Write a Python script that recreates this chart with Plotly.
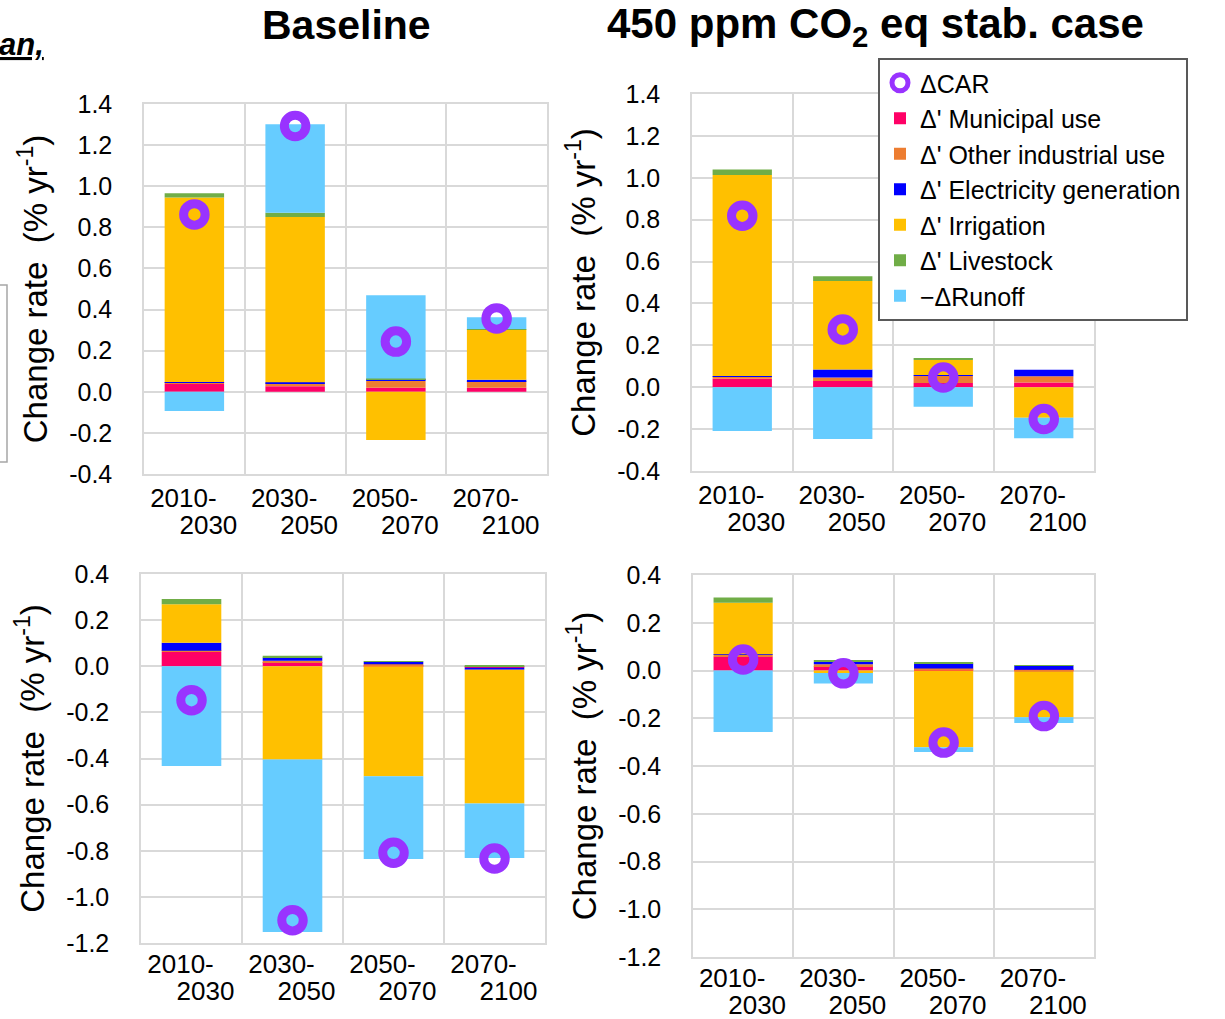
import plotly.graph_objects as go

# Periods on the category axis, and the two lines of each period label
periods = ["2010-2030", "2030-2050", "2050-2070", "2070-2100"]
period_start_labels = ["2010-", "2030-", "2050-", "2070-"]
period_end_labels = ["2030", "2050", "2070", "2100"]

# Tick labels of the change-rate axes (% per year)
top_ticks = [-0.4, -0.2, 0.0, 0.2, 0.4, 0.6, 0.8, 1.0, 1.2, 1.4]
top_tick_text = ["-0.4", "-0.2", "0.0", "0.2", "0.4", "0.6", "0.8", "1.0", "1.2", "1.4"]
bottom_ticks = [-1.2, -1.0, -0.8, -0.6, -0.4, -0.2, 0.0, 0.2, 0.4]
bottom_tick_text = ["-1.2", "-1.0", "-0.8", "-0.6", "-0.4", "-0.2", "0.0", "0.2", "0.4"]

# Baseline, upper region
tl_municipal = [0.038, 0.027, 0.020, 0.020]
tl_other = [0.008, 0.015, 0.033, 0.032]
tl_electricity = [0.001, 0.004, 0.006, 0.007]
tl_irrigation = [0.898, 0.804, -0.234, 0.245]
tl_livestock = [0.021, 0.021, 0.005, 0.001]
tl_runoff = [-0.093, 0.431, 0.405, 0.057]
tl_car = [0.863, 1.293, 0.244, 0.357]

# 450 ppm stabilisation case, upper region
tr_municipal = [0.040, 0.030, 0.020, 0.022]
tr_other = [0.012, 0.017, 0.035, 0.030]
tr_electricity = [0.001, 0.038, 0.003, 0.032]
tr_irrigation = [0.960, 0.422, 0.072, -0.146]
tr_livestock = [0.027, 0.023, 0.009, 0.000]
tr_runoff = [-0.209, -0.247, -0.093, -0.098]
tr_car = [0.819, 0.276, 0.046, -0.152]

# Baseline, lower region
bl_municipal = [0.062, 0.018, 0.004, -0.006]
bl_other = [0.005, 0.006, 0.005, 0.000]
bl_electricity = [0.035, 0.014, 0.011, -0.009]
bl_irrigation = [0.167, -0.404, -0.477, -0.580]
bl_livestock = [0.023, 0.008, 0.002, 0.002]
bl_runoff = [-0.432, -0.748, -0.359, -0.236]
bl_car = [-0.147, -1.101, -0.809, -0.834]

# 450 ppm stabilisation case, lower region
br_municipal = [0.058, 0.018, 0.004, 0.003]
br_other = [0.008, 0.008, 0.004, -0.005]
br_electricity = [0.002, 0.010, 0.021, 0.018]
br_irrigation = [0.216, -0.010, -0.321, -0.191]
br_livestock = [0.022, 0.006, 0.003, 0.002]
br_runoff = [-0.258, -0.044, -0.020, -0.024]
br_car = [0.046, -0.012, -0.302, -0.191]

component_names = ["\u0394' Municipal use", "\u0394' Other industrial use",
                    "\u0394' Electricity generation", "\u0394' Irrigation",
                    "\u0394' Livestock", "\u2212\u0394Runoff"]
component_colors = ["#FF0066", "#ED7D31", "#0000FF", "#FFC000", "#70AD47", "#66CCFF"]
car_name = "\u0394CAR"
car_color = "#9933FF"

panels = [
    ("x", "y", "x5", [tl_municipal, tl_other, tl_electricity, tl_irrigation, tl_livestock, tl_runoff], tl_car),
    ("x2", "y2", "x6", [tr_municipal, tr_other, tr_electricity, tr_irrigation, tr_livestock, tr_runoff], tr_car),
    ("x3", "y3", "x7", [bl_municipal, bl_other, bl_electricity, bl_irrigation, bl_livestock, bl_runoff], bl_car),
    ("x4", "y4", "x8", [br_municipal, br_other, br_electricity, br_irrigation, br_livestock, br_runoff], br_car),
]

W, H = 1225, 1019
FONT = "Liberation Sans, Arial, sans-serif"
GRID = "#D9D9D9"

fig = go.Figure()
for p, (xa, ya, xa_lbl, comps, car) in enumerate(panels):
    for k, vals in enumerate(comps):
        fig.add_trace(go.Bar(
            x=periods, y=vals, xaxis=xa, yaxis=ya,
            name=component_names[k], legendgroup=component_names[k],
            showlegend=(p == 0), legendrank=k + 2,
            marker=dict(color=component_colors[k], line=dict(width=0)),
        ))
    fig.add_trace(go.Scatter(
        x=periods, y=car, xaxis=xa, yaxis=ya, mode="markers",
        name=car_name, legendgroup=car_name, showlegend=(p == 0), legendrank=1,
        marker=dict(symbol="circle-open", size=21.5, color=car_color,
                    line=dict(width=9, color=car_color)),
    ))
    # Transparent companion trace so the second-line label axis gets drawn
    fig.add_trace(go.Scatter(
        x=periods, y=car, xaxis=xa_lbl, yaxis=ya, mode="markers",
        marker=dict(opacity=0), showlegend=False, hoverinfo="skip",
    ))


def px_x(v):
    return v / W


def px_y(v):
    return 1 - v / H


# Plot-area rectangles in pixels: (left, right, top, bottom)
boxes = {
    "1": (144, 547, 104, 474),
    "2": (692, 1094, 94, 471),
    "3": (141, 545, 574, 943),
    "4": (693, 1094, 575, 957),
}

layout = dict(
    width=W, height=H,
    margin=dict(l=0, r=0, t=0, b=0, autoexpand=False),
    paper_bgcolor="white", plot_bgcolor="white",
    barmode="relative", bargap=0.41,
    font=dict(family=FONT, color="black"),
    legend=dict(
        x=px_x(878), y=px_y(58), xanchor="left", yanchor="top",
        bgcolor="white", bordercolor="#595959", borderwidth=2,
        font=dict(size=25, family=FONT), tracegroupgap=0,
        traceorder="normal",
    ),
)

for key, (l, r, t, b) in boxes.items():
    sfx = "" if key == "1" else key
    top = key in ("1", "2")
    lift = 0 if top else 3
    # Category axis: gridlines on category boundaries, first line of each period label
    layout["xaxis" + sfx] = dict(
        domain=[px_x(l), px_x(r)], anchor="y" + sfx, type="category",
        automargin=False, range=[-0.5, 3.5],
        tickson="boundaries", showgrid=True, gridcolor=GRID, gridwidth=1.5,
        showline=True, mirror=True, linecolor=GRID, linewidth=1.5,
        ticks="", tickvals=periods, ticktext=period_start_labels,
        tickfont=dict(size=26, family=FONT), ticklabelstandoff=-lift,
        ticklabelshift=-11,
    )
    # Companion axis carrying the second line of each period label
    layout["xaxis" + str(int(key) + 4)] = dict(
        overlaying="x" + sfx, anchor="y" + sfx, side="bottom", automargin=False,
        type="category", range=[-0.5, 3.5], tickvals=periods,
        ticktext=period_end_labels, showgrid=False, showline=False,
        zeroline=False, ticks="", tickfont=dict(size=26, family=FONT),
        ticklabelstandoff=33 - lift, ticklabelshift=14, fixedrange=True,
    )
    layout["yaxis" + sfx] = dict(
        domain=[px_y(b), px_y(t)], anchor="x" + sfx, automargin=False,
        range=[-0.4, 1.4] if top else [-1.2, 0.4],
        tickvals=top_ticks if top else bottom_ticks,
        ticktext=top_tick_text if top else bottom_tick_text,
        showgrid=True, gridcolor=GRID, gridwidth=1.5, zeroline=False,
        showline=True, mirror=True, linecolor=GRID, linewidth=1.5,
        ticks="", tickfont=dict(size=25, family=FONT), ticklabelstandoff=25,
        title=dict(text="Change rate\u00a0\u00a0(% yr<sup>-1</sup>)",
                   font=dict(size=33, family=FONT), standoff=12),
    )

fig.update_layout(**layout)

fig.add_annotation(text="<b>Baseline</b>", x=px_x(346), y=px_y(25),
                   xref="paper", yref="paper", xanchor="center", yanchor="middle",
                   showarrow=False, font=dict(size=41, family=FONT))
fig.add_annotation(text="<b>450 ppm CO<sub>2</sub> eq stab. case</b>", x=px_x(875), y=px_y(27),
                   xref="paper", yref="paper", xanchor="center", yanchor="middle",
                   showarrow=False, font=dict(size=42, family=FONT))
fig.add_annotation(text="<b><i><u>an,</u></i></b>", x=px_x(46), y=px_y(44),
                   xref="paper", yref="paper", xanchor="right", yanchor="middle",
                   showarrow=False, font=dict(size=31, family=FONT))

fig.add_shape(type="rect", xref="paper", yref="paper",
              x0=px_x(-20), x1=px_x(7), y0=px_y(462), y1=px_y(285),
              line=dict(color="#A6A6A6", width=1.5), fillcolor="rgba(0,0,0,0)")

fig.write_html("out.html")
